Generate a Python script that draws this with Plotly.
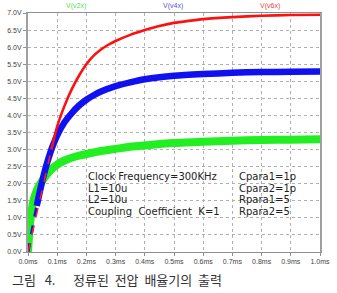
import plotly.graph_objects as go

# time axis (ms) and voltages
t_red = [0, 0.02, 0.04, 0.06, 0.08, 0.1, 0.125, 0.15, 0.175, 0.2, 0.225, 0.25, 0.275, 0.3,
         0.35, 0.4, 0.45, 0.5, 0.55, 0.6, 0.7, 0.8, 0.9, 1.0]
v6x = [0, 0.75, 1.5, 2.25, 3.0, 3.68, 4.28, 4.77, 5.17, 5.5, 5.75, 5.93, 6.07, 6.18,
       6.36, 6.5, 6.62, 6.71, 6.77, 6.82, 6.88, 6.92, 6.94, 6.95]

t_blue = [0, 0.01, 0.02, 0.03, 0.04, 0.05, 0.06, 0.07, 0.08, 0.09, 0.1, 0.125, 0.15, 0.175,
          0.2, 0.225, 0.25, 0.3, 0.35, 0.4, 0.45, 0.5, 0.6, 0.7, 0.8, 0.9, 1.0]
v4x = [0, 0.45, 0.9, 1.35, 1.75, 2.12, 2.45, 2.74, 3.0, 3.22, 3.42, 3.8, 4.07, 4.29,
       4.46, 4.59, 4.7, 4.86, 4.97, 5.06, 5.12, 5.16, 5.21, 5.25, 5.27, 5.28, 5.29]

t_green = [0, 0.003, 0.006, 0.01, 0.015, 0.02, 0.03, 0.04, 0.05, 0.06, 0.08, 0.1, 0.125,
           0.15, 0.175, 0.2, 0.25, 0.3, 0.35, 0.4, 0.5, 0.6, 0.7, 0.8, 0.9, 1.0]
v2x = [0, 0.4, 0.75, 1.05, 1.35, 1.55, 1.8, 1.97, 2.1, 2.22, 2.42, 2.56, 2.68,
       2.76, 2.82, 2.87, 2.96, 3.02, 3.08, 3.12, 3.19, 3.23, 3.26, 3.28, 3.29, 3.3]

x_ticks = [0.0, 0.1, 0.2, 0.3, 0.4, 0.5, 0.6, 0.7, 0.8, 0.9, 1.0]
x_labels = ["%.1fms" % v for v in x_ticks]
y_ticks = [0.0, 0.5, 1.0, 1.5, 2.0, 2.5, 3.0, 3.5, 4.0, 4.5, 5.0, 5.5, 6.0, 6.5, 7.0]
y_labels = ["%.1fV" % v for v in y_ticks]

legend_names = ["V(v2x)", "V(v4x)", "V(v6x)"]
param_left = ["Clock Frequency=300KHz", "L1=10u", "L2=10u", "Coupling\u00a0 Coefficient\u00a0 K=1"]
param_right = ["Cpara1=1p", "Cpara2=1p", "Rpara1=5", "Rpara2=5"]
caption = "그림\u00a0\u00a0 4.\u00a0\u00a0\u00a0\u00a0\u00a0 정류된\u00a0 전압\u00a0 배율기의\u00a0 출력"

fig = go.Figure()
fig.add_trace(go.Scatter(x=t_green, y=v2x, mode="lines",
                         line=dict(color="#22ee22", width=8, shape="spline", smoothing=0.7), name=legend_names[0]))
# blue: thin broken start, thick band afterwards
fig.add_trace(go.Scatter(x=t_blue[:4], y=v4x[:4], mode="lines",
                         line=dict(color="#1010f0", width=3, dash="dash"), name=legend_names[1]))
fig.add_trace(go.Scatter(x=t_blue[3:], y=v4x[3:], mode="lines",
                         line=dict(color="#1010f0", width=6.5, shape="spline", smoothing=0.7), name=legend_names[1]))
# red: dashed early part, solid afterwards
fig.add_trace(go.Scatter(x=t_red[:5], y=v6x[:5], mode="lines",
                         line=dict(color="#ff2020", width=1.5, dash="dash"), name=legend_names[2]))
fig.add_trace(go.Scatter(x=t_red[4:], y=v6x[4:], mode="lines",
                         line=dict(color="#ff1010", width=2.6, shape="spline", smoothing=0.7), name=legend_names[2]))

tickfont = dict(family="Liberation Sans, Arial", size=7, color="#444")
fig.update_xaxes(range=[0, 1.0], tickvals=x_ticks, ticktext=x_labels, tickfont=tickfont,
                 ticklabeloverflow="allow",
                 showgrid=True, gridcolor="#b0b0b0", griddash="dot", gridwidth=1,
                 showline=True, linecolor="#909090", linewidth=1, mirror=True,
                 ticks="outside", ticklen=3, tickcolor="#909090", zeroline=False)
fig.update_yaxes(range=[0, 7.0], tickvals=y_ticks, ticktext=y_labels, tickfont=tickfont,
                 showgrid=True, gridcolor="#b0b0b0", griddash="dot", gridwidth=1,
                 showline=True, linecolor="#a0a0a0", linewidth=2, mirror=True,
                 ticks="outside", ticklen=3, tickcolor="#909090", zeroline=False)

anns = []
leg_cols = ["#55dd55", "#5555dd", "#ee4444"]
leg_x = [0.165, 0.495, 0.83]
for name, c, xp in zip(legend_names, leg_cols, leg_x):
    anns.append(dict(text=name, x=xp, y=1.0, xref="paper", yref="paper", xanchor="center",
                     yanchor="bottom", yshift=1, showarrow=False,
                     font=dict(family="Liberation Sans, Arial", size=7, color=c)))
ys = [0.316, 0.264, 0.218, 0.169]
for txt, yp in zip(param_left, ys):
    anns.append(dict(text=txt, x=0.2, y=yp, xref="paper", yref="paper", xanchor="left",
                     yanchor="middle", showarrow=False,
                     font=dict(family="DejaVu Sans", size=10, color="#222")))
for txt, yp in zip(param_right, ys):
    anns.append(dict(text=txt, x=0.715, y=yp, xref="paper", yref="paper", xanchor="left",
                     yanchor="middle", showarrow=False,
                     font=dict(family="DejaVu Sans", size=10, color="#222")))
anns.append(dict(text=caption, x=-0.062, y=-0.117, xref="paper", yref="paper", xanchor="left",
                 yanchor="middle", showarrow=False,
                 font=dict(family="Noto Sans CJK KR", size=13, color="#333")))

fig.update_layout(width=337, height=293, margin=dict(l=19, r=7, t=13, b=41),
                  paper_bgcolor="white", plot_bgcolor="white", showlegend=False,
                  annotations=anns)
fig.write_html("out.html")
